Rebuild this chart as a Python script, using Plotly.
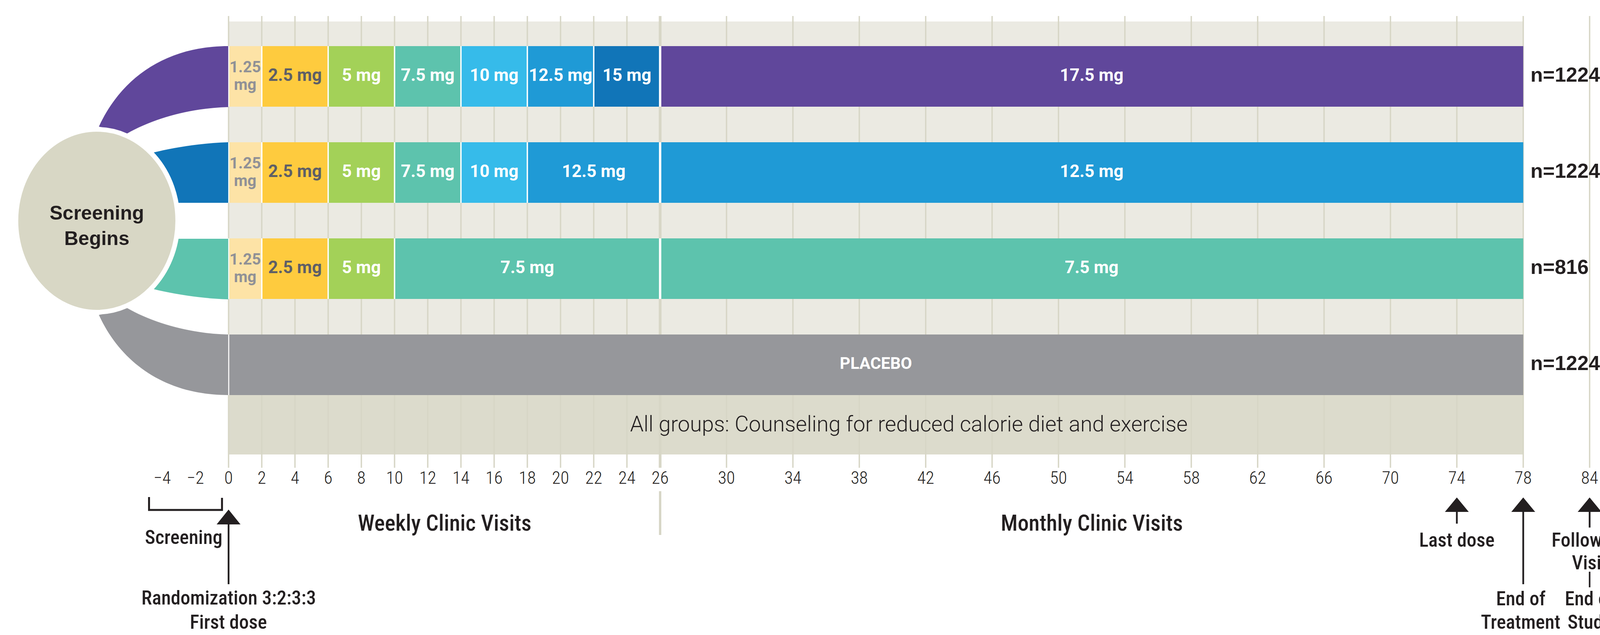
import plotly.graph_objects as go

# ---------------- data ----------------
screen_weeks = [-4, -2]
weekly_weeks = [0, 2, 4, 6, 8, 10, 12, 14, 16, 18, 20, 22, 24, 26]
monthly_weeks = [30, 34, 38, 42, 46, 50, 54, 58, 62, 66, 70, 74, 78]
followup_weeks = [84]
screen_labels = ["−4", "−2"]

arm_sizes = ["n=1224", "n=1224", "n=816", "n=1224"]
arm_colors = ["#60479B", "#1175B8", "#5DC3AD", "#96979B"]

arm1_doses = ["1.25 mg", "2.5 mg", "5 mg", "7.5 mg", "10 mg", "12.5 mg", "15 mg", "17.5 mg"]
arm1_start = [0, 2, 6, 10, 14, 18, 22, 26]
arm1_end = [2, 6, 10, 14, 18, 22, 26, 78]

arm2_doses = ["1.25 mg", "2.5 mg", "5 mg", "7.5 mg", "10 mg", "12.5 mg", "12.5 mg"]
arm2_start = [0, 2, 6, 10, 14, 18, 26]
arm2_end = [2, 6, 10, 14, 18, 26, 78]

arm3_doses = ["1.25 mg", "2.5 mg", "5 mg", "7.5 mg", "7.5 mg"]
arm3_start = [0, 2, 6, 10, 26]
arm3_end = [2, 6, 10, 26, 78]

arm4_doses = ["PLACEBO"]
arm4_start = [0]
arm4_end = [78]

dose_colors = {
    "1.25 mg": "#FDE3A6", "2.5 mg": "#FECB3E", "5 mg": "#A3D158",
    "7.5 mg": "#5DC3AD", "10 mg": "#36BBEA", "12.5 mg": "#1F9AD6",
    "15 mg": "#1175B8", "17.5 mg": "#60479B", "PLACEBO": "#96979B",
}
dose_text_colors = {"1.25 mg": "#909196", "2.5 mg": "#5E5F66"}

# milestones: (week, label lines)
milestone_first = (0, ["Randomization 3:2:3:3", "First dose"])
milestone_last = (74, ["Last dose"])
milestone_eot = (78, ["End of", "Treatment"])
milestone_fu = (84, ["Follow-up", "Visit"], ["End of", "Study"])

counsel_text = "All groups: Counseling for reduced calorie diet and exercise"
period_labels = ["Weekly Clinic Visits", "Monthly Clinic Visits"]

# ---------------- scale helpers ----------------
REF_W, H = 4627, 1625        # reference picture size (layout designed in its pixels)
W = 4096                     # browser viewport width
PX0, PXW = 661, 48           # reference pixel of week 0, pixels per week


def pos(week):
    # axis position; compressed scale after week 78 (follow-up)
    return week if week <= 78 else 78 + (week - 78) * 2 / 3


def X(px):
    return (px - PX0) / PXW


ROW_TOP = [118, 364, 610, 856]
BAR_H = 155
GRID_TOP, GRID_BOT = 41, 1197
BAND_TOP, COUNSEL_TOP, COUNSEL_BOT = 55, 1011, 1163
DARK = "#231F20"
GRIDC = "#D7D6C6"

fig = go.Figure()

# background bands
fig.add_shape(type="rect", xref="x", yref="y", x0=pos(0), x1=pos(78), y0=BAND_TOP, y1=COUNSEL_TOP,
              fillcolor="#EBEAE2", line_width=0, layer="below")
fig.add_shape(type="rect", xref="x", yref="y", x0=pos(0), x1=pos(78), y0=COUNSEL_TOP, y1=COUNSEL_BOT,
              fillcolor="#DCDBCC", line_width=0, layer="below")

# gridlines (below the bars)
grid_weeks = weekly_weeks + monthly_weeks + followup_weeks
for w in grid_weeks:
    fig.add_shape(type="line", xref="x", yref="y", x0=pos(w), x1=pos(w), y0=GRID_TOP, y1=GRID_BOT,
                  line=dict(color=GRIDC, width=7 if w == 26 else 3.5), layer="below")
fig.add_shape(type="line", xref="x", yref="y", x0=pos(26), x1=pos(26), y0=1257, y1=1369,
              line=dict(color=GRIDC, width=6), layer="below")

# bars
rows = [(arm1_doses, arm1_start, arm1_end), (arm2_doses, arm2_start, arm2_end),
        (arm3_doses, arm3_start, arm3_end), (arm4_doses, arm4_start, arm4_end)]
lx, ly, lt, lc, ls = [], [], [], [], []
sx, sy, tx, ty = [], [], [], []
for r, (doses, starts, ends) in enumerate(rows):
    yc = ROW_TOP[r] + BAR_H / 2
    fig.add_trace(go.Bar(
        orientation="h",
        base=[pos(s) for s in starts],
        x=[pos(e) - pos(s) for s, e in zip(starts, ends)],
        y=[yc] * len(doses), width=BAR_H,
        marker=dict(color=[dose_colors[d] for d in doses], line=dict(width=0)),
        hoverinfo="skip", showlegend=False))
    for d, s, e in zip(doses, starts, ends):
        xm = (pos(s) + pos(e)) / 2
        col = dose_text_colors.get(d, "white")
        if d == "1.25 mg":
            parts = d.split(" ")
            lx += [xm, xm]
            ly += [yc - 21, yc + 24]
            lt += parts
            lc += [col, col]
            ls += [40, 40]
        else:
            lx.append(xm)
            ly.append(yc)
            lt.append(d)
            lc.append(col)
            ls.append(42 if d == "PLACEBO" else 44)
        if s == 26:
            tx += [pos(s), pos(s), None]
            ty += [ROW_TOP[r], ROW_TOP[r] + BAR_H, None]
        else:
            sx += [pos(s), pos(s), None]
            sy += [ROW_TOP[r], ROW_TOP[r] + BAR_H, None]

fig.add_trace(go.Scatter(x=sx, y=sy, mode="lines", line=dict(color="white", width=3.5),
                         hoverinfo="skip", showlegend=False))
fig.add_trace(go.Scatter(x=tx, y=ty, mode="lines", line=dict(color="white", width=6),
                         hoverinfo="skip", showlegend=False))
fig.add_trace(go.Scatter(x=lx, y=ly, mode="text", text=lt,
                         textfont=dict(family="Roboto, sans-serif", size=ls, color=lc, weight="bold"),
                         textposition="middle center", hoverinfo="skip", showlegend=False))

# n= labels
fig.add_trace(go.Scatter(x=[X(4426)] * 4, y=[t + BAR_H / 2 for t in ROW_TOP], mode="text",
                         text=arm_sizes, textposition="middle right",
                         textfont=dict(family="Liberation Sans, Arial, sans-serif", size=52,
                                       color=DARK, weight="bold"),
                         hoverinfo="skip", showlegend=False))

# tick labels
tick_weeks = screen_weeks + weekly_weeks + monthly_weeks + followup_weeks
tick_text = screen_labels + [str(w) for w in weekly_weeks + monthly_weeks + followup_weeks]
fig.add_trace(go.Scatter(x=[pos(w) for w in tick_weeks], y=[1227] * len(tick_weeks), mode="text",
                         text=tick_text, textposition="middle center",
                         textfont=dict(family="Roboto Condensed, Roboto, sans-serif", size=45,
                                       color=DARK, weight=300),
                         hoverinfo="skip", showlegend=False))


# arms (reference-pixel paths converted to axis units)
def path(cmds):
    out = []
    for c in cmds:
        if isinstance(c, str):
            out.append(c)
        else:
            out.append(f"{X(c[0]):.4f},{c[1]:.2f}")
    return " ".join(out)


arm_paths = [
    ["M", (660, 118), "C", (480, 118), (350, 200), (286, 324), "L", (367, 342),
     "C", (450, 300), (560, 276), (660, 274), "Z"],
    ["M", (660, 364), "C", (580, 366), (500, 378), (445, 390), "L", (515, 519), "L", (660, 519), "Z"],
    ["M", (660, 611), "L", (515, 611), "L", (445, 740), "C", (500, 752), (580, 764), (660, 766), "Z"],
    ["M", (660, 1011), "C", (480, 1011), (350, 930), (286, 806), "L", (367, 788),
     "C", (450, 830), (560, 854), (660, 856), "Z"],
]
for p, col in zip(arm_paths, arm_colors):
    fig.add_shape(type="path", xref="x", yref="y", path=path(p), fillcolor=col, line_width=0,
                  layer="above")

# screening circle
CX, CY, R = 280, 565, 234
fig.add_shape(type="circle", xref="x", yref="y", x0=X(CX - R), x1=X(CX + R), y0=CY - R, y1=CY + R,
              fillcolor="#D8D7C5", line=dict(color="white", width=12), layer="above")
fig.add_annotation(x=X(CX), y=577, xref="x", yref="y", text="Screening<br>Begins", showarrow=False,
                   font=dict(family="Liberation Sans, Arial, sans-serif", size=50, color=DARK,
                             weight="bold"))

# counseling
fig.add_annotation(x=41, y=1085, xref="x", yref="y", text=counsel_text, showarrow=False,
                   font=dict(family="Roboto, sans-serif", size=55.5, color=DARK, weight=300))

# period labels
for lab, mid in zip(period_labels, [(pos(0) + pos(26)) / 2, (pos(26) + pos(78)) / 2]):
    fig.add_annotation(x=mid, y=1338, xref="x", yref="y", text=lab, showarrow=False,
                       font=dict(family="Roboto Condensed, Roboto, sans-serif", size=57,
                                 color=DARK, weight=500))

LAB_FONT = dict(family="Roboto Condensed, Roboto, sans-serif", size=50, color=DARK, weight=500)


def label(xw, y, t):
    fig.add_annotation(x=xw, y=y, xref="x", yref="y", text=t, showarrow=False, font=LAB_FONT)


def arrow(xw, tip, base, bottom):
    half = 34.5 / PXW
    fig.add_shape(type="path", xref="x", yref="y",
                  path=f"M {xw:.4f},{tip} L {xw - half:.4f},{base} L {xw + half:.4f},{base} Z",
                  fillcolor=DARK, line_width=0, layer="above")
    fig.add_shape(type="line", xref="x", yref="y", x0=xw, x1=xw, y0=base - 2, y1=bottom,
                  line=dict(color=DARK, width=4.5), layer="above")


# screening bracket
fig.add_shape(type="path", xref="x", yref="y",
              path=f"M {X(431):.4f},1272 L {X(431):.4f},1305 L {X(642):.4f},1305 L {X(642):.4f},1274",
              line=dict(color=DARK, width=5), layer="above")
label(X(531), 1375, "Screening")

w0 = pos(milestone_first[0])
arrow(w0, 1304, 1342, 1495)
label(w0, 1530, milestone_first[1][0])
label(w0, 1592, milestone_first[1][1])

w74 = pos(milestone_last[0])
arrow(w74, 1273, 1310, 1340)
label(w74, 1382, milestone_last[1][0])

w78 = pos(milestone_eot[0])
arrow(w78, 1273, 1310, 1495)
label(w78 - 0.15, 1532, milestone_eot[1][0])
label(w78 - 0.15, 1592, milestone_eot[1][1])

w84 = pos(milestone_fu[0])
arrow(w84, 1273, 1310, 1350)
label(w84, 1382, milestone_fu[1][0])
label(w84, 1440, milestone_fu[1][1])
fig.add_shape(type="line", xref="x", yref="y", x0=w84, x1=w84, y0=1463, y1=1503,
              line=dict(color=DARK, width=4), layer="above")
label(w84, 1532, milestone_fu[2][0])
label(w84, 1592, milestone_fu[2][1])

fig.update_layout(
    width=W, height=H, margin=dict(l=0, r=0, t=0, b=0, pad=0),
    paper_bgcolor="white", plot_bgcolor="rgba(0,0,0,0)", barmode="overlay", showlegend=False,
    xaxis=dict(range=[X(0), X(REF_W)], visible=False, fixedrange=True),
    yaxis=dict(range=[H, 0], visible=False, fixedrange=True),
)

fig.write_html("out.html", config={"displayModeBar": False},
               post_script="document.body.style.margin='0px';document.body.style.overflow='hidden';")
